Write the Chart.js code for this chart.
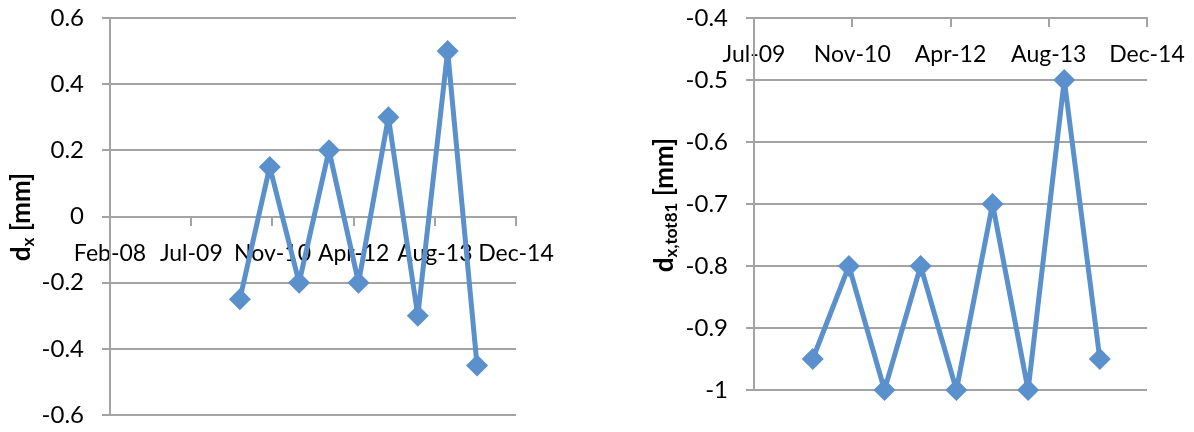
<!DOCTYPE html>
<html>
<head>
<meta charset="utf-8">
<script src="https://cdn.jsdelivr.net/npm/chart.js@4/dist/chart.umd.min.js"></script>
<style>
  html, body { margin: 0; padding: 0; background: #ffffff; }
  #wrap { position: relative; width: 1194px; height: 432px; overflow: hidden; }
  canvas { position: absolute; top: 0; }
  #dxChart { left: 0; }
  #dxTotChart { left: 597px; }
</style>
</head>
<body>
<div id="wrap">
  <canvas id="dxChart" width="597" height="432"></canvas>
  <canvas id="dxTotChart" width="597" height="432"></canvas>
</div>
<script>
// Survey epochs (half-yearly measurements)
const surveyDates = ['2010-05-01', '2010-11-01', '2011-05-01', '2011-11-01', '2012-05-01',
                     '2012-11-01', '2013-05-01', '2013-11-01', '2014-05-01'];

// Displacement d_x [mm]
const dxValues = [-0.25, 0.15, -0.2, 0.2, -0.2, 0.3, -0.3, 0.5, -0.45];

// Total displacement d_x,tot81 [mm]
const dxTot81Values = [-0.95, -0.8, -1.0, -0.8, -1.0, -0.7, -1.0, -0.5, -0.95];

// Date axis ticks (500-day steps)
const dxDateTicks = ['2008-02-21', '2009-07-06', '2010-11-18', '2012-04-01', '2013-08-14', '2014-12-27'];
const dxDateLabels = ['Feb-08', 'Jul-09', 'Nov-10', 'Apr-12', 'Aug-13', 'Dec-14'];
const totDateTicks = ['2009-07-06', '2010-11-18', '2012-04-01', '2013-08-14', '2014-12-27'];
const totDateLabels = ['Jul-09', 'Nov-10', 'Apr-12', 'Aug-13', 'Dec-14'];

// Value axis ticks
const dxTicks = [0.6, 0.4, 0.2, 0, -0.2, -0.4, -0.6];
const dxTickLabels = ['0.6', '0.4', '0.2', '0', '-0.2', '-0.4', '-0.6'];
const totTicks = [-0.4, -0.5, -0.6, -0.7, -0.8, -0.9, -1.0];
const totTickLabels = ['-0.4', '-0.5', '-0.6', '-0.7', '-0.8', '-0.9', '-1'];

const toTime = s => Date.parse(s);
const GRID = '#a3a3a3';
const SERIES = '#5a90cb';
const FONT = 'Lato';
const Y_TICK_FONT_SIZE = 24;
const X_TICK_FONT_SIZE = 23;

Chart.defaults.font.family = FONT;
Chart.defaults.color = '#000000';

function labelFor(values, labels) {
  return function (v) {
    const i = values.findIndex(t => Math.abs(t - v) < 1e-6);
    return i >= 0 ? labels[i] : '';
  };
}

// Rotated axis title "d" with a subscript and a trailing unit
const axisTitlePlugin = {
  id: 'axisTitle',
  afterDraw(chart, args, opts) {
    const ctx = chart.ctx;
    const mainFont = 'bold 26px ' + FONT;
    const subFont = 'bold 17px ' + FONT;
    ctx.save();
    ctx.fillStyle = '#000000';
    ctx.textBaseline = 'middle';
    ctx.font = mainFont;
    const wD = ctx.measureText(opts.base).width;
    const wU = ctx.measureText(opts.unit).width;
    ctx.font = subFont;
    const wS = ctx.measureText(opts.sub).width;
    const total = wD + wS + wU;
    ctx.translate(opts.x, opts.y);
    ctx.rotate(-Math.PI / 2);
    let x = -total / 2;
    ctx.textAlign = 'left';
    ctx.font = mainFont;
    ctx.fillText(opts.base, x, 0);
    x += wD;
    ctx.font = subFont;
    ctx.fillText(opts.sub, x, 7);
    x += wS;
    ctx.font = mainFont;
    ctx.fillText(opts.unit, x, 0);
    ctx.restore();
  }
};

function buildChart(canvasId, cfg) {
  const points = surveyDates.map((d, i) => ({ x: toTime(d), y: cfg.values[i] }));
  const xTickTimes = cfg.dateTicks.map(toTime);
  return new Chart(document.getElementById(canvasId), {
    type: 'line',
    data: {
      datasets: [{
        data: points,
        borderColor: SERIES,
        backgroundColor: SERIES,
        borderWidth: 5,
        borderJoinStyle: 'round',
        tension: 0,
        pointStyle: 'rectRot',
        pointRadius: 11,
        pointBorderWidth: 0,
        pointBackgroundColor: SERIES,
        clip: false
      }]
    },
    options: {
      responsive: false,
      animation: false,
      events: [],
      layout: { padding: cfg.padding },
      plugins: {
        legend: { display: false },
        tooltip: { enabled: false },
        axisTitle: cfg.title
      },
      scales: {
        x: {
          type: 'linear',
          min: xTickTimes[0],
          max: xTickTimes[xTickTimes.length - 1],
          position: { y: cfg.xCross },
          afterBuildTicks: s => { s.ticks = xTickTimes.map(v => ({ value: v })); },
          afterFit: s => {
            s.height = 0;
            s.paddingLeft = 0; s.paddingRight = 0; s.paddingTop = 0; s.paddingBottom = 0;
          },
          grid: { drawOnChartArea: false, drawTicks: true, tickLength: 8, color: GRID, lineWidth: 2 },
          border: { display: true, color: GRID, width: 2 },
          ticks: {
            autoSkip: false, maxRotation: 0, minRotation: 0,
            padding: cfg.xLabelPad,
            font: { size: X_TICK_FONT_SIZE },
            color: '#000000',
            callback: labelFor(xTickTimes, cfg.dateLabels)
          }
        },
        y: {
          type: 'linear',
          position: 'left',
          min: cfg.yMin,
          max: cfg.yMax,
          afterBuildTicks: s => { s.ticks = cfg.yTicks.map(v => ({ value: v })); },
          afterFit: s => {
            s.width = cfg.yWidth;
            s.paddingLeft = 0; s.paddingRight = 0; s.paddingTop = 0; s.paddingBottom = 0;
          },
          grid: { drawOnChartArea: true, drawTicks: true, tickLength: 8, color: GRID, lineWidth: 2 },
          border: { display: true, color: GRID, width: 2 },
          ticks: {
            padding: 18,
            font: { size: Y_TICK_FONT_SIZE },
            color: '#000000',
            callback: labelFor(cfg.yTicks, cfg.yLabels)
          }
        }
      }
    },
    plugins: [axisTitlePlugin]
  });
}

buildChart('dxChart', {
  values: dxValues,
  dateTicks: dxDateTicks,
  dateLabels: dxDateLabels,
  xCross: 0,
  xLabelPad: 15,
  yMin: -0.6, yMax: 0.6,
  yTicks: dxTicks, yLabels: dxTickLabels,
  yWidth: 110,
  padding: { left: 0, top: 18, right: 81, bottom: 17 },
  title: { base: 'd', sub: 'x', unit: ' [mm]', x: 22, y: 217 }
});

buildChart('dxTotChart', {
  values: dxTot81Values,
  dateTicks: totDateTicks,
  dateLabels: totDateLabels,
  xCross: -0.4,
  xLabelPad: 15,
  yMin: -1.0, yMax: -0.4,
  yTicks: totTicks, yLabels: totTickLabels,
  yWidth: 157,
  padding: { left: 0, top: 18, right: 47, bottom: 42 },
  title: { base: 'd', sub: 'x,tot81', unit: ' [mm]', x: 68, y: 205 }
});
</script>
</body>
</html>
